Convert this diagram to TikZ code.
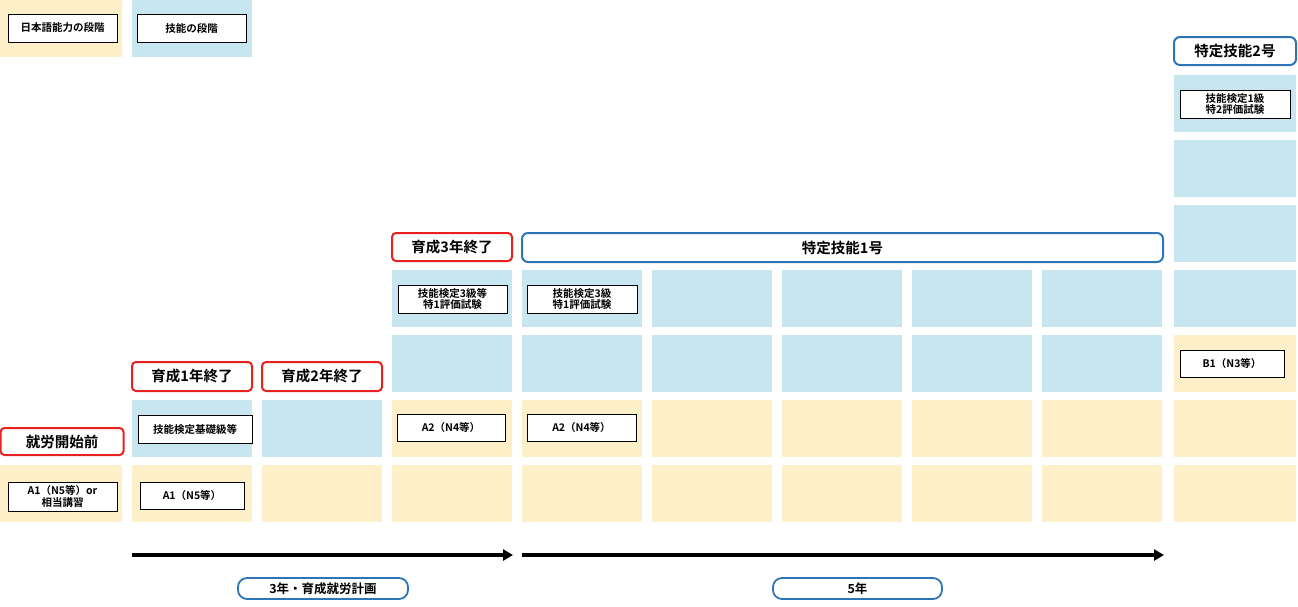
\documentclass[tikz,border=0pt]{standalone}
\usepackage{fontspec}
\setmainfont{Noto Sans CJK JP}[BoldFont={* Bold}]
\usetikzlibrary{arrows.meta}
\definecolor{ylw}{HTML}{FDF0C9}
\definecolor{blu}{HTML}{C7E6F0}
\definecolor{rd}{HTML}{E8201E}
\definecolor{bb}{HTML}{2F74B5}
\tikzset{
 x=1pt,y=-1pt,
 wb/.style={draw=black,fill=white,line width=1pt,inner sep=0pt,font=\bfseries\fontsize{10.5}{11.5}\selectfont,align=center},
 rl/.style={draw=rd,line width=2pt,rounded corners=4pt,fill=white,inner sep=0pt,font=\bfseries\fontsize{14.5}{15}\selectfont},
 bl/.style={draw=bb,line width=2pt,rounded corners=6pt,fill=white,inner sep=0pt,font=\bfseries\fontsize{14.5}{15}\selectfont},
 sl/.style={draw=bb,line width=1.8pt,rounded corners=9pt,fill=white,inner sep=0pt,font=\bfseries\fontsize{12.5}{13}\selectfont},
 ar/.style={line width=3.5pt,-{Triangle[length=10pt,width=11pt]}}
}
\newcommand{\wnode}[6]{\node[wb,minimum width=#3-#2,minimum height=#5-#4] (#1) at ({(#2+#3)/2},{(#4+#5)/2}) {#6};}
\begin{document}
\begin{tikzpicture}
\useasboundingbox (0,0) rectangle (1298,606);
% legend
\fill[ylw] (0,0) rectangle (122,57);
\fill[blu] (132,0) rectangle (252,57);
\wnode{lj}{8}{117}{14}{42}{日本語能力の段階}
\wnode{ls}{137}{246}{14}{42}{技能の段階}
% columns
\fill[ylw] (0,465) rectangle (122,522);
\fill[ylw] (132,465) rectangle (252,522);
\fill[blu] (132,400) rectangle (252,457);
\fill[ylw] (262,465) rectangle (382,522);
\fill[blu] (262,400) rectangle (382,457);
\foreach \x in {392,522,652,782,912,1042}{
 \fill[ylw] (\x,465) rectangle (\x+120,522);
 \fill[ylw] (\x,400) rectangle (\x+120,457);
 \fill[blu] (\x,335) rectangle (\x+120,392);
 \fill[blu] (\x,270) rectangle (\x+120,327);
}
\foreach \y/\c in {465/ylw,400/ylw,335/ylw,270/blu,205/blu,140/blu,75/blu}{
 \fill[\c] (1174,\y) rectangle (1296,\y+57);
}
% inner boxes
\wnode{a1}{8}{117}{482}{511}{A1（N5等）or\\相当講習}
\wnode{a2}{140}{244}{482}{509}{A1（N5等）}
\wnode{s2}{138}{252}{415}{443}{技能検定基礎級等}
\wnode{a4}{397}{505}{414}{441}{A2（N4等）}
\wnode{s4}{398}{507}{285}{313}{技能検定3級等\\特1評価試験}
\wnode{s5}{527}{637}{285}{313}{技能検定3級\\特1評価試験}
\wnode{a5}{527}{636}{414}{441}{A2（N4等）}
\wnode{s10}{1180}{1290}{90}{118}{技能検定1級\\特2評価試験}
\wnode{b10}{1180}{1284}{350}{377}{B1（N3等）}
% labels
\node[rl,minimum width=123,minimum height=27] (r0) at (62,441.5) {就労開始前};
\node[rl,minimum width=120,minimum height=29] (r1) at (192,376.5) {育成1年終了};
\node[rl,minimum width=120,minimum height=29] (r2) at (322,376.5) {育成2年終了};
\node[rl,minimum width=120,minimum height=28] (r3) at (452,247) {育成3年終了};
\node[bl,minimum width=641,minimum height=29] (t1) at (842.5,247.5) {特定技能1号};
\node[bl,minimum width=122,minimum height=28] (t2) at (1235,51) {特定技能2号};
% arrows
\coordinate (p1) at (132,555); \coordinate (p2) at (513,555);
\coordinate (p3) at (522,555); \coordinate (p4) at (1164,555);
\draw[ar] (p1) -- (p2);
\draw[ar] (p3) -- (p4);
\node[sl,minimum width=170,minimum height=21] (y3) at (323,588.5) {3年・育成就労計画};
\node[sl,minimum width=169,minimum height=21] (y5) at (857.5,588.5) {5年};
\end{tikzpicture}
\end{document}
